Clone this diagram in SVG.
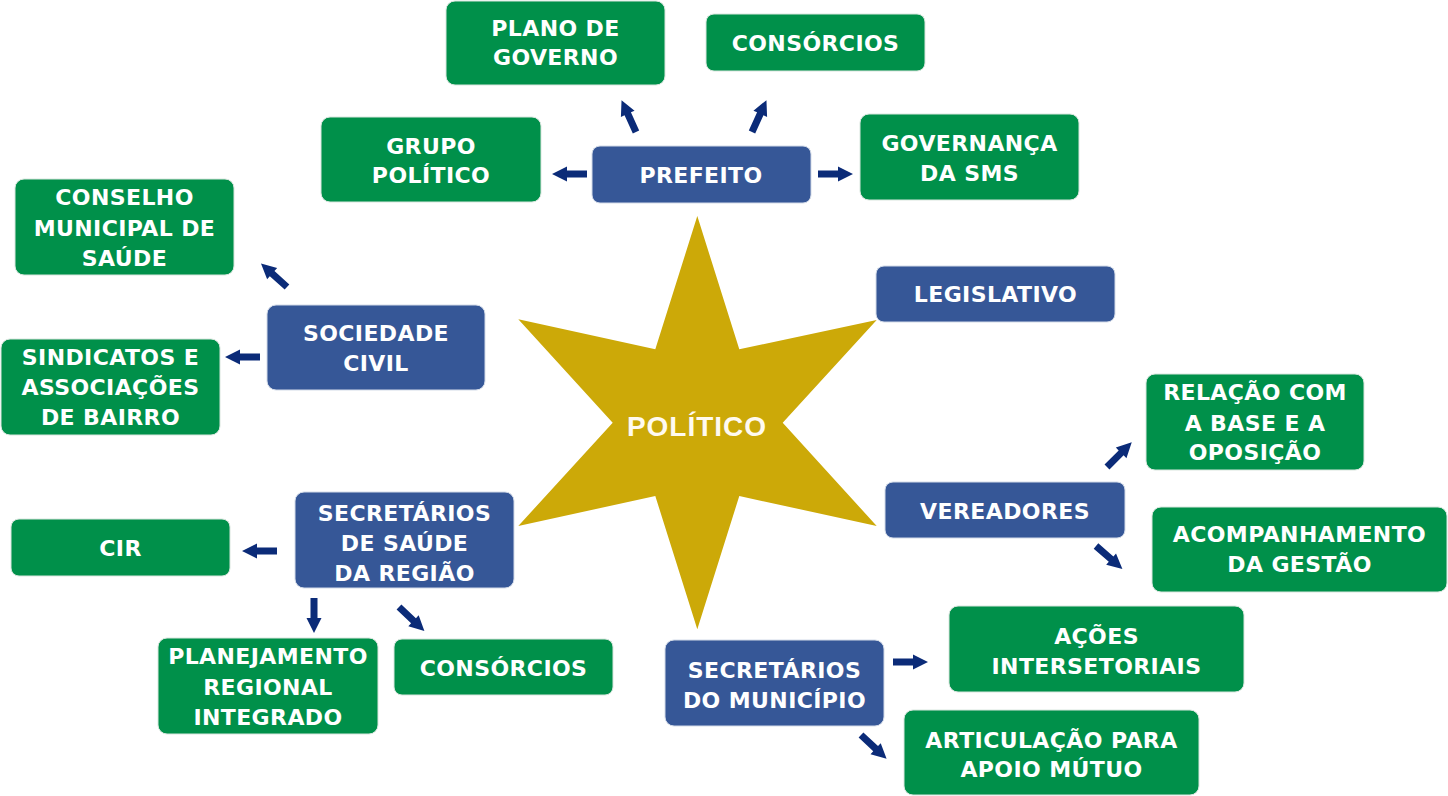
<svg xmlns="http://www.w3.org/2000/svg" xmlns:xlink="http://www.w3.org/1999/xlink" width="1448" height="796" viewBox="0 0 1448 796">
<style>
.g{fill:#00904a;stroke:#d9e6de;stroke-width:1}
.b{fill:#365797;stroke:#d3dbe8;stroke-width:1}
.t{font-family:"DejaVu Sans",sans-serif;font-weight:bold;font-size:22px;letter-spacing:0.4px;fill:#ffffff;text-anchor:middle}
.a{fill:#0b2b78}
</style>
<defs>
<path id="arr" d="M0,-3.5 L20,-3.5 L20,-7.5 L35,0 L20,7.5 L20,3.5 L0,3.5 Z"/>
</defs>
<rect width="1448" height="796" fill="#ffffff"/>
<g id="star">
<polygon points="697.3,216 739.3,349.3 876.7,320 782.7,422.7 876.7,526 739.3,496 697.3,629.3 655.3,496 518.3,526 612.7,422.7 518.3,319.3 655.3,349.3" fill="#cca908"/>
<text x="697" y="436" style="font-family:'Liberation Sans',Arial,sans-serif;font-weight:bold;font-size:28px;letter-spacing:1px;fill:#fffaf0;text-anchor:middle">POLÍTICO</text>
</g>
<g id="connectors" class="a">
<use xlink:href="#arr" transform="translate(587,174) rotate(180)"/>
<use xlink:href="#arr" transform="translate(818,174)"/>
<use xlink:href="#arr" transform="translate(636,132) rotate(-114.4)"/>
<use xlink:href="#arr" transform="translate(752,132) rotate(-65.6)"/>
<use xlink:href="#arr" transform="translate(287,287) rotate(-138)"/>
<use xlink:href="#arr" transform="translate(260,357) rotate(180)"/>
<use xlink:href="#arr" transform="translate(277,551) rotate(180)"/>
<use xlink:href="#arr" transform="translate(314,598) rotate(90)"/>
<use xlink:href="#arr" transform="translate(399,607) rotate(43.5)"/>
<use xlink:href="#arr" transform="translate(1107,467) rotate(-45)"/>
<use xlink:href="#arr" transform="translate(1096,546) rotate(41)"/>
<use xlink:href="#arr" transform="translate(893,662)"/>
<use xlink:href="#arr" transform="translate(861,735) rotate(43)"/>
</g>
<g id="plano-governo"><rect class="g" x="446" y="1" width="219" height="84" rx="9"/><text class="t" x="555.5" y="36">PLANO DE</text><text class="t" x="555.5" y="65">GOVERNO</text></g>
<g id="consorcios-top"><rect class="g" x="706" y="14" width="219" height="57" rx="8"/><text class="t" x="815.5" y="51">CONSÓRCIOS</text></g>
<g id="grupo-politico"><rect class="g" x="321" y="117" width="220" height="85" rx="9"/><text class="t" x="431" y="154">GRUPO</text><text class="t" x="431" y="183">POLÍTICO</text></g>
<g id="prefeito"><rect class="b" x="592" y="146" width="219" height="57" rx="8"/><text class="t" x="701" y="183">PREFEITO</text></g>
<g id="governanca"><rect class="g" x="860" y="114" width="219" height="86" rx="9"/><text class="t" x="969.5" y="151">GOVERNANÇA</text><text class="t" x="969.5" y="181">DA SMS</text></g>
<g id="conselho"><rect class="g" x="15" y="179" width="219" height="96" rx="9"/><text class="t" x="124.5" y="205">CONSELHO</text><text class="t" x="124.5" y="236">MUNICIPAL DE</text><text class="t" x="124.5" y="266">SAÚDE</text></g>
<g id="sociedade-civil"><rect class="b" x="267" y="305" width="218" height="85" rx="9"/><text class="t" x="376" y="341">SOCIEDADE</text><text class="t" x="376" y="371">CIVIL</text></g>
<g id="sindicatos"><rect class="g" x="1" y="339" width="219" height="96" rx="9"/><text class="t" x="110.5" y="365">SINDICATOS E</text><text class="t" x="110.5" y="395">ASSOCIAÇÕES</text><text class="t" x="110.5" y="425">DE BAIRRO</text></g>
<g id="legislativo"><rect class="b" x="876" y="266" width="239" height="56" rx="8"/><text class="t" x="995.5" y="302">LEGISLATIVO</text></g>
<g id="relacao"><rect class="g" x="1146" y="374" width="218" height="96" rx="9"/><text class="t" x="1255" y="400">RELAÇÃO COM</text><text class="t" x="1255" y="431">A BASE E A</text><text class="t" x="1255" y="460">OPOSIÇÃO</text></g>
<g id="vereadores"><rect class="b" x="885" y="482" width="240" height="56" rx="8"/><text class="t" x="1005" y="519">VEREADORES</text></g>
<g id="acompanhamento"><rect class="g" x="1152" y="507" width="295" height="85" rx="9"/><text class="t" x="1299.5" y="542">ACOMPANHAMENTO</text><text class="t" x="1299.5" y="572">DA GESTÃO</text></g>
<g id="cir"><rect class="g" x="11" y="519" width="219" height="57" rx="8"/><text class="t" x="120.5" y="556">CIR</text></g>
<g id="secretarios-regiao"><rect class="b" x="295" y="492" width="219" height="96" rx="9"/><text class="t" x="404.5" y="521">SECRETÁRIOS</text><text class="t" x="404.5" y="551">DE SAÚDE</text><text class="t" x="404.5" y="581">DA REGIÃO</text></g>
<g id="planejamento"><rect class="g" x="158" y="638" width="220" height="96" rx="9"/><text class="t" x="268" y="664">PLANEJAMENTO</text><text class="t" x="268" y="695">REGIONAL</text><text class="t" x="268" y="725">INTEGRADO</text></g>
<g id="consorcios-bottom"><rect class="g" x="394" y="639" width="219" height="56" rx="8"/><text class="t" x="503.5" y="676">CONSÓRCIOS</text></g>
<g id="secretarios-municipio"><rect class="b" x="665" y="640" width="219" height="86" rx="9"/><text class="t" x="774.5" y="678">SECRETÁRIOS</text><text class="t" x="774.5" y="708">DO MUNICÍPIO</text></g>
<g id="acoes"><rect class="g" x="949" y="606" width="295" height="86" rx="9"/><text class="t" x="1096.5" y="644">AÇÕES</text><text class="t" x="1096.5" y="674">INTERSETORIAIS</text></g>
<g id="articulacao"><rect class="g" x="904" y="710" width="295" height="85" rx="9"/><text class="t" x="1051.5" y="748">ARTICULAÇÃO PARA</text><text class="t" x="1051.5" y="777">APOIO MÚTUO</text></g>
</svg>
